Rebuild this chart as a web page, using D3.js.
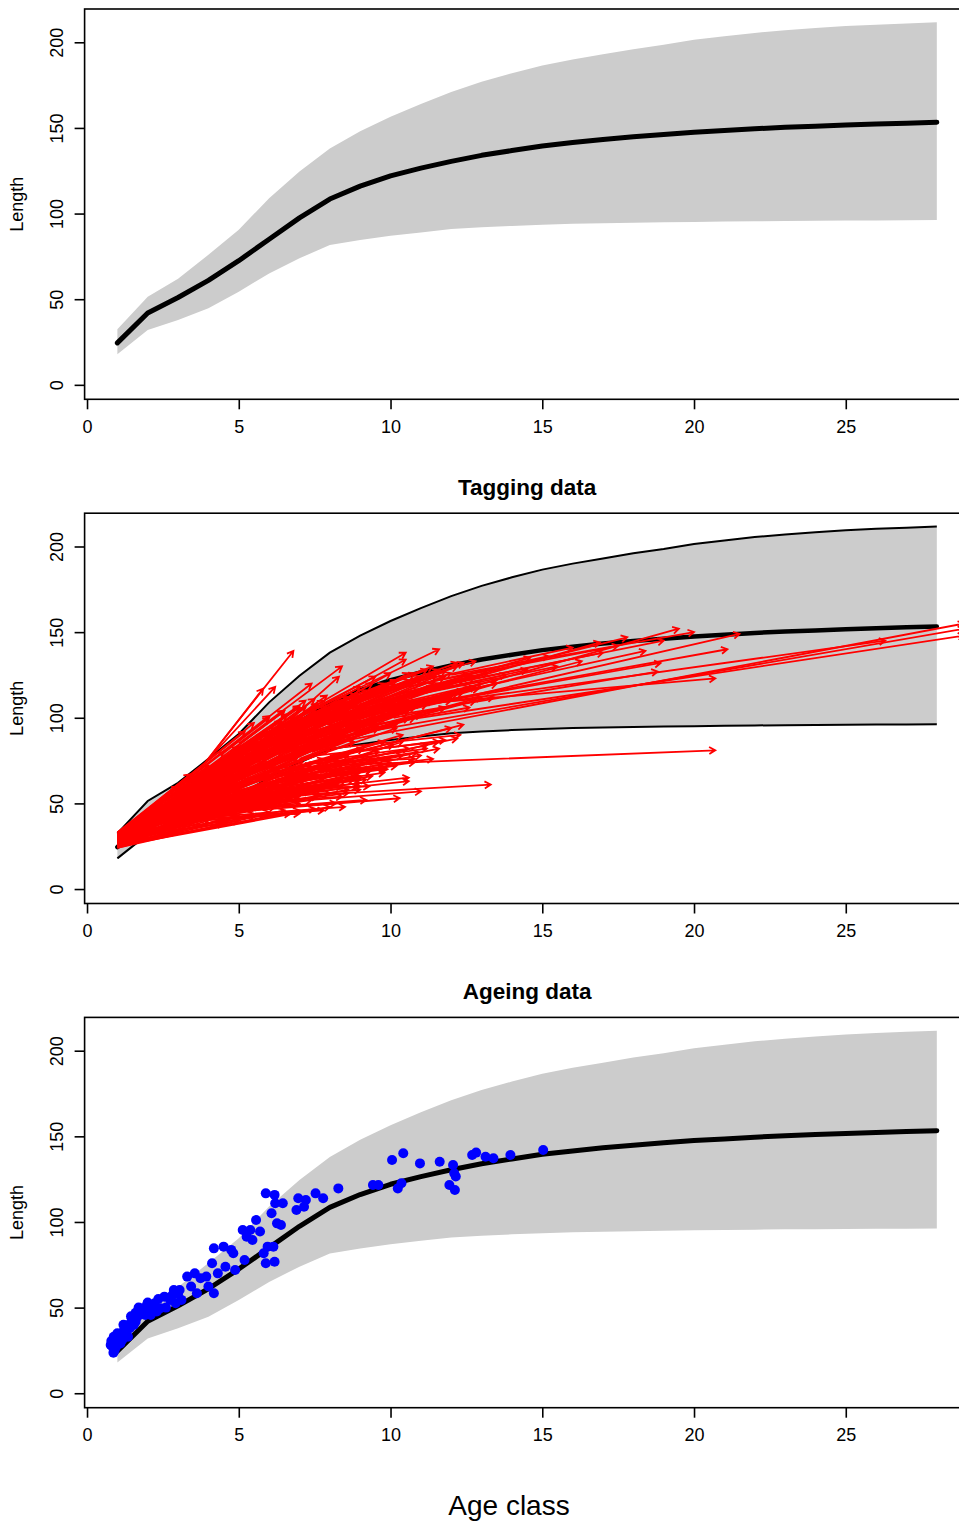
<!DOCTYPE html>
<html>
<head>
<meta charset="utf-8">
<script src="https://d3js.org/d3.v7.min.js"></script>
<style>
  body { margin: 0; background: #fff; }
  text { font-family: "Liberation Sans", Arial, Helvetica, sans-serif; fill: #000; }
</style>
</head>
<body>
<script>
// age classes and fitted growth curve (mean + band)
var ageClass = [1,2,3,4,5,6,7,8,9,10,11,12,13,14,15,16,17,18,19,20,21,22,23,24,25,26,27,28];
var meanLen  = [24.5,42,51,61,72.5,85,97.5,108.5,116,122,126.5,130.5,134,136.8,139.5,141.5,143.3,144.8,146.2,147.5,148.5,149.5,150.4,151,151.7,152.3,152.8,153.3];
var upperLen = [32.5,51.4,62,76,90.5,109,124.5,138,148,156.5,164,171,177,182,186.5,190,193,196,198.5,201.5,203.5,205.5,207,208.3,209.5,210.3,211,211.7];
var lowerLen = [17.9,32,37.9,44.7,54.4,65,73.9,81.6,84.5,87,89,91,92,92.8,93.4,94,94.3,94.6,94.9,95.1,95.3,95.5,95.7,95.8,95.9,96,96.1,96.2];

var xTicks = [0,5,10,15,20,25];
var yTicks = [0,50,100,150,200];
var panelTitles = ["", "Tagging data", "Ageing data"];

// tagging data: [release age, release length, recapture age, recapture length]
var tagArrows = [
  [1.00,28,3.0,37],[1.02,30,3.0,45],[1.00,31,3.1,53],[1.05,33,3.0,60],[1.00,26,3.5,39],
  [1.00,29,3.5,48],[1.03,31,3.6,58],[1.00,32,3.4,67],[1.00,25,4.0,40],[1.08,28,4.0,47],
  [1.00,30,4.1,55],[1.00,31,3.9,63],[1.02,33,4.0,72],[1.00,24,4.5,41],[1.00,27,4.5,50],
  [1.05,29,4.6,60],[1.00,31,4.4,70],[1.00,32,4.5,80],[1.00,25,5.0,43],[1.10,27,5.0,52],
  [1.00,29,5.1,62],[1.00,30,4.9,72],[1.03,32,5.0,83],[1.00,33,5.2,92],[1.00,26,5.5,44],
  [1.00,28,5.6,54],[1.06,30,5.5,65],[1.00,29,5.4,76],[1.00,31,5.6,87],[1.00,32,5.5,97],
  [1.00,25,6.0,45],[1.00,27,6.1,56],[1.04,28,6.0,66],[1.00,30,5.9,78],[1.00,31,6.1,89],
  [1.00,33,6.0,101],[1.00,24,6.5,46],[1.08,27,6.6,57],[1.00,29,6.4,69],[1.00,30,6.5,81],
  [1.00,28,6.6,93],[1.02,32,6.5,104],[1.00,25,7.0,46],[1.00,26,7.1,58],[1.00,28,7.0,71],
  [1.05,30,6.9,83],[1.00,31,7.1,95],[1.00,29,7.0,107],[1.00,26,7.5,47],[1.00,27,7.6,61],
  [1.03,29,7.4,73],[1.00,30,7.5,86],[1.00,32,7.6,99],[1.00,28,7.5,111],[1.00,25,8.0,48],
  [1.00,28,8.1,62],[1.06,29,8.0,75],[1.00,31,7.9,89],[1.00,30,8.1,103],[1.00,27,8.5,63],
  [1.00,29,8.6,78],[1.02,31,8.4,95],[1.00,32,8.5,110],[1.00,28,9.0,66],[1.00,30,9.1,82],
  [1.05,31,9.0,98],[1.00,33,8.9,114],
  [1.5,34,4.2,58],[1.6,38,5.3,76],[1.8,36,6.2,72],[2.0,42,6.5,96],[2.0,38,5.8,60],
  [2.1,44,7.3,100],[2.2,45,7.0,80],[2.3,40,6.4,52],[2.4,47,8.0,104],[2.5,48,7.7,92],
  [2.5,43,7.2,64],[2.6,40,7.0,55],[2.7,50,8.3,108],[2.8,52,8.5,90],[2.9,46,8.0,70],
  [3.0,55,9.0,112],[3.0,52,6.5,90],[3.1,58,10.0,118],[3.2,50,7.5,68],[3.3,46,8.2,61],
  [3.4,56,9.2,96],[3.5,60,9.5,104],[3.5,54,8.7,76],[3.6,54,9.8,86],[3.7,62,8.2,100],
  [3.8,65,10.5,110],[3.8,58,7.6,84],[3.9,74,6.8,139],[3.8,72,6.2,118],[4.0,76,5.8,117],
  [4.0,62,10.8,100],[4.0,68,9.0,106],[4.1,60,7.0,78],[4.2,70,11.5,124],[4.3,66,8.4,94],
  [4.5,72,12.0,112],[4.5,80,7.4,120],[4.6,70,9.6,116],[4.8,68,10.2,96],[4.9,82,9.5,124],
  [5.0,85,8.4,130],[5.0,75,11.0,122],[5.1,72,8.8,100],[5.3,80,10.2,119],[5.5,86,10.5,138],
  [5.5,78,9.4,105],[5.6,84,11.8,127],[5.8,90,9.0,112],[6.0,92,11.6,140],[6.0,82,12.4,115],
  [6.2,88,10.0,126],[6.5,96,12.2,132],[6.5,90,11.0,116],[6.8,94,12.6,125],[7.0,100,10.5,134],
  [7.0,95,13.5,122],[7.3,102,11.2,128],[7.5,105,12.8,133],[7.8,98,12.0,110],[8.0,108,11.4,130],
  [5.2,78,10.6,126],[5.8,86,7.9,113],[6.4,94,8.3,124],[4.4,78,6.0,100],[4.7,80,6.5,104],
  [5.0,70,20.7,81],[7.5,55,13.3,61],[6.0,85,19.5,152],[7.0,90,21.5,149],[8.0,100,26.3,145],
  [6.5,80,28.9,155],[7.0,85,28.9,152],[8.0,92,28.9,148],[9.0,105,20.7,123],[8.5,100,21.1,140],
  [7.0,95,18.4,139],[8.0,98,18.9,132],[9.0,98,18.8,127],[6.0,90,16.9,144],[10.0,118,16.0,141],
  [9.0,112,15.2,136],[11.0,120,17.5,142],[10.0,110,14.5,128],[8.5,95,13.5,120],[9.5,102,16.3,133],
  [10.5,115,19.0,145],[11.5,118,17.0,138],[9.0,108,17.8,147],[7.5,100,14.6,135],[8.2,104,15.5,130],
  [12.0,125,20.0,150],[10.2,112,13.8,125],[9.6,106,12.9,117],
  [3.0,40,7.8,46],[2.5,38,6.7,44],[4.0,45,9.2,52],[3.5,43,10.3,53],[4.5,48,11.0,57],
  [5.0,52,10.6,63],[5.5,55,10.6,65],[4.5,50,9.0,58],[6.0,60,9.8,71],[6.5,62,10.1,84.5],
  [7.0,70,10.9,80],[5.0,56,8.8,66],[6.0,66,9.5,75],[4.0,42,8.5,48],[3.0,36,5.5,42],
  [5.5,58,9.3,60],[6.2,64,11.0,78],[7.0,68,12.2,88],[2.0,33,4.5,38],[1.5,30,5.0,40],
  [3.5,40,7.0,44],[4.5,46,8.2,50],[5.5,54,8.0,56],[6.5,66,9.0,68],[7.5,74,10.8,76],
  [6.8,70,9.9,70],[8.0,78,11.8,87],[8.0,82,12.3,90],
  [1.3,30,5.2,66],[1.4,33,5.8,80],[1.5,32,6.3,88],[1.6,35,5.0,58],[1.7,37,6.8,92],
  [1.8,40,7.4,98],[1.9,38,6.0,68],[2.0,36,7.8,84],[2.0,46,6.2,94],[2.1,41,5.4,64],
  [2.2,43,8.2,96],[2.3,47,7.6,102],[2.4,39,6.8,60],[2.5,45,6.0,74],[2.6,50,7.2,106],
  [2.7,44,8.8,88],[2.8,48,6.6,86],[2.9,54,7.8,110],[3.0,42,7.4,58],[3.0,49,8.0,82],
  [3.1,53,7.0,98],[3.2,45,9.0,72],[3.2,57,8.6,112],[3.3,51,6.4,80],[3.4,48,7.9,66],
  [3.5,58,7.5,104],[3.5,50,9.6,80],[3.6,62,6.9,100],[3.7,55,8.4,92],[3.7,47,8.9,60],
  [3.8,60,9.2,108],[3.9,52,7.1,74],[4.0,64,8.0,106],[4.0,56,10.2,94],[4.1,50,9.4,66],
  [4.2,68,7.6,108],[4.2,58,8.2,88],[4.3,53,10.0,74],[4.4,62,9.8,102],[4.5,66,8.6,104],
  [4.5,56,7.8,76],[4.6,74,9.0,118],[4.7,60,10.4,90],[4.8,54,9.2,64],[4.9,70,8.0,102],
  [5.0,64,9.6,96],[5.0,78,9.8,120],[5.1,58,8.4,72],[5.2,68,10.8,106],[5.3,74,8.6,108],
  [5.4,62,11.2,84],[5.5,70,9.6,100],[5.6,80,10.0,118],[5.7,66,8.8,86],[5.8,76,11.4,110],
  [5.9,60,9.8,70],[6.0,72,10.6,100],[6.0,86,9.4,120],[6.1,68,12.0,94],[6.2,80,10.8,114],
  [6.3,74,9.0,92],[6.4,64,11.6,82],[6.5,84,11.4,120],[6.6,78,9.8,104],[6.7,70,12.4,96],
  [6.8,88,10.2,122],[6.9,82,11.8,112],[7.0,76,9.6,94],[7.1,92,12.0,126],[7.2,86,10.4,112],
  [7.4,80,11.0,102],[7.5,96,11.6,128],[7.6,90,12.6,118],[7.8,84,10.6,104],[7.9,102,12.2,130],
  [8.0,94,11.0,116],[8.2,88,12.8,110],[8.4,106,12.4,132],[8.6,98,11.6,120],[8.8,92,13.0,112],
  [1.2,29,4.8,48],[1.3,31,5.4,56],[1.4,28,6.2,52],[1.5,33,6.9,64],[1.6,30,7.7,58],
  [1.7,34,4.4,52],[1.8,32,5.7,50],[1.9,36,8.4,70],[2.0,34,6.6,50],[2.1,37,7.9,62],
  [2.2,35,9.0,66],[2.3,38,5.6,48],[2.4,36,8.6,58],[2.5,40,9.8,76],[2.6,38,6.2,50],
  [2.7,41,8.4,64],[2.8,39,7.0,54],[2.9,42,9.4,70],[3.0,44,10.4,86],[3.1,41,6.0,52],
  [1.1,27,2.6,38],[1.2,30,2.8,46],[1.1,32,2.4,44],[1.3,28,2.2,36],[1.2,33,3.3,55],
  [1.4,31,3.8,52],[1.0,29,2.0,40],[1.1,26,2.5,34],[1.5,35,3.2,56],[1.6,36,4.8,74],
  [1.0,30,4.3,66],[1.0,27,4.7,56],[1.0,29,5.3,68],[1.0,32,5.8,90],[1.0,28,6.2,74],
  [1.0,30,6.8,98],[1.0,26,7.3,66],[1.0,31,7.8,104],[1.0,29,8.3,88],[1.0,27,8.8,70],
  [1.0,30,6.3,62],[1.0,28,5.0,57],[1.0,31,5.3,80],[1.0,27,6.9,76],[1.0,29,7.2,90],
  [1.0,32,7.1,101],[1.0,28,3.8,50],[1.0,30,4.8,64],[1.0,26,5.8,50],[1.0,29,6.0,84],
  [4.0,70,8.6,112],[4.5,74,9.4,114],[5.0,80,8.9,108],[5.2,84,9.2,116],[5.4,76,10.4,112],
  [5.6,88,10.6,122],[5.8,82,9.6,108],[6.0,78,10.2,104],[6.1,90,11.0,124],[6.3,86,9.8,116],
  [6.5,80,11.2,108],[6.6,92,10.8,126],[6.8,84,10.6,110],[7.0,88,11.4,118],[7.2,96,10.0,118],
  [7.3,82,11.8,106],[7.5,92,12.4,122],[7.7,86,11.2,108],[7.9,96,12.0,120],[8.1,90,11.6,112],
  [8.3,100,12.6,124],[8.5,94,12.2,114],[8.7,104,11.8,124],[8.9,96,12.8,118],[9.1,100,12.4,116],
  [9.3,108,13.2,126],[9.5,96,12.6,106],[9.7,104,13.0,120],[9.9,110,12.8,124],[10.1,100,13.4,112],
  [2.0,35,6.2,48],[2.5,39,7.4,52],[3.0,42,7.0,50],[3.3,44,8.6,56],[3.6,46,7.6,54],
  [3.9,48,8.4,60],[4.2,50,9.0,62],[4.6,52,8.8,64],[4.9,55,9.8,68],[5.2,56,9.0,64],
  [5.5,60,10.2,72],[5.8,62,9.4,70],[6.1,63,10.8,74],[6.4,68,10.4,78],[6.7,66,11.4,76],
  [7.0,72,11.2,82],[7.3,74,10.6,82],[7.6,78,11.6,86],[6.0,57,9.0,60],[5.0,50,8.4,54],
  [2.2,48,5.2,80],[2.6,52,5.6,86],[3.0,58,6.0,92],[3.3,62,6.4,98],[3.6,66,6.6,102],
  [3.9,68,7.0,106],[4.2,72,7.2,110],[2.4,46,5.8,74],[2.8,50,6.4,84],[3.2,54,6.8,88]
];

// ageing data
var ageingAge = [0.87,0.78,0.91,0.97,1.10,1.22,1.35,1.47,1.60,1.73,1.85,1.98,2.10,2.23,2.30,2.42,2.55,2.74,2.86,2.92,
  3.05,3.11,3.30,3.43,3.55,3.62,3.74,3.93,4.00,4.12,4.18,4.18,4.31,4.50,4.56,4.75,4.82,4.88,5.13,5.19,
  5.26,5.38,5.45,5.57,5.70,5.82,5.89,5.89,5.95,6.08,6.14,6.18,6.18,6.20,6.26,6.39,6.45,6.90,6.96,7.15,
  7.21,7.53,7.78,8.28,9.42,9.60,10.05,10.24,10.36,10.42,10.97,11.62,11.94,12.06,12.10,12.12,12.15,12.69,12.82,13.13,
  13.39,13.95,15.03,
  0.84,0.91,1.03,1.16,1.29,1.41,1.54,1.66,1.79,1.92,2.04,2.10,0.80,0.88,1.00,1.20,1.45,1.60,1.70,2.00,
  2.35,2.60,2.80,3.00,2.20,1.35,1.10,0.95];
var ageingLen = [23.7,28.2,30.2,32.1,34,37,39.9,43.8,41.8,48.6,49.6,51.6,50.6,52.5,47.7,49.6,56.4,54.5,60.3,52.5,
  60.3,54.5,68.1,62.3,70,58.4,67.1,68.1,62.3,75.9,84.6,58.4,70,85.6,73.9,83.7,81.7,72,95.3,77.8,
  91.4,95.3,89.5,101.2,94.4,81.7,116.7,75.9,85.6,105.1,85.6,76.8,115.8,110.9,99.2,98.2,110.9,107,113.8,108.9,
  112.8,116.7,113.8,119.6,121.6,121.6,136.2,119.6,122.6,140.1,134.2,135.2,121.6,133.3,128.4,118.7,126.5,139.1,140.5,138.1,
  137.2,139.1,142,
  27.2,25.3,29.2,31.1,36,37.9,39.9,44.7,46.7,45.7,48.6,45.7,30.5,33,35,40,45,47,50,53,
  55,50,57,58,50.5,33,29,27];

var W = 959, H = 1522;
var panelStep = 504.2;
var plotTop = 9, plotBottom = 399.3, plotLeft = 84.6, plotRight = 969.6;

var svg = d3.select("body").append("svg")
  .attr("width", W).attr("height", H);

var x = d3.scaleLinear().domain([-0.08, 29.08]).range([plotLeft, plotRight]);

var curve = ageClass.map(function(a, i) {
  return { age: a, mean: meanLen[i], up: upperLen[i], lo: lowerLen[i] };
});

[0, 1, 2].forEach(function(p) {
  var off = p * panelStep;
  var y = d3.scaleLinear().domain([-8.44, 219.44]).range([plotBottom + off, plotTop + off]);
  var g = svg.append("g");

  g.append("clipPath").attr("id", "clip" + p)
    .append("rect")
    .attr("x", plotLeft).attr("y", plotTop + off)
    .attr("width", plotRight - plotLeft).attr("height", plotBottom - plotTop);

  var plot = g.append("g").attr("clip-path", "url(#clip" + p + ")");

  // band
  plot.append("path")
    .datum(curve)
    .attr("fill", "#cccccc")
    .attr("d", d3.area()
      .x(function(d) { return x(d.age); })
      .y0(function(d) { return y(d.lo); })
      .y1(function(d) { return y(d.up); }));

  if (p === 1) {
    ["up", "lo"].forEach(function(k) {
      plot.append("path")
        .datum(curve)
        .attr("fill", "none")
        .attr("stroke", "#000")
        .attr("stroke-width", 2)
        .attr("d", d3.line()
          .x(function(d) { return x(d.age); })
          .y(function(d) { return y(d[k]); }));
    });
  }

  // mean growth curve
  plot.append("path")
    .datum(curve)
    .attr("fill", "none")
    .attr("stroke", "#000")
    .attr("stroke-width", p === 1 ? 4.5 : 5)
    .attr("stroke-linecap", "round")
    .attr("stroke-linejoin", "round")
    .attr("d", d3.line()
      .x(function(d) { return x(d.age); })
      .y(function(d) { return y(d.mean); }));

  if (p === 1) {
    var head = 7, ang = Math.PI / 6;
    plot.append("g")
      .attr("fill", "none")
      .attr("stroke", "#ff0000")
      .attr("stroke-width", 1.8)
      .selectAll("path")
      .data(tagArrows)
      .enter().append("path")
      .attr("d", function(d) {
        var x0 = x(d[0]), y0 = y(d[1]), x1 = x(d[2]), y1 = y(d[3]);
        var t = Math.atan2(y1 - y0, x1 - x0);
        var ax = x1 - head * Math.cos(t - ang), ay = y1 - head * Math.sin(t - ang);
        var bx = x1 - head * Math.cos(t + ang), by = y1 - head * Math.sin(t + ang);
        return "M" + x0 + "," + y0 + "L" + x1 + "," + y1 +
               "M" + ax + "," + ay + "L" + x1 + "," + y1 + "L" + bx + "," + by;
      });
  }

  if (p === 2) {
    plot.append("g")
      .selectAll("circle")
      .data(ageingAge)
      .enter().append("circle")
      .attr("cx", function(d) { return x(d); })
      .attr("cy", function(d, i) { return y(ageingLen[i]); })
      .attr("r", 5)
      .attr("fill", "#0000ff");
  }

  // box
  g.append("rect")
    .attr("x", plotLeft).attr("y", plotTop + off)
    .attr("width", plotRight - plotLeft).attr("height", plotBottom - plotTop)
    .attr("fill", "none").attr("stroke", "#000").attr("stroke-width", 1.6);

  // x axis
  var xa = g.append("g")
    .attr("transform", "translate(0," + (plotBottom + off) + ")")
    .call(d3.axisBottom(x).tickValues(xTicks).tickSize(10).tickPadding(11));
  xa.select(".domain").remove();
  xa.selectAll("line").attr("stroke-width", 1.6);
  xa.selectAll("text").style("font-size", "18px").style("font-family", null);

  // y axis
  var ya = g.append("g")
    .attr("transform", "translate(" + plotLeft + ",0)")
    .call(d3.axisLeft(y).tickValues(yTicks).tickSize(10));
  ya.select(".domain").remove();
  ya.selectAll("line").attr("stroke-width", 1.6);
  ya.selectAll("text")
    .attr("x", null).attr("dy", null)
    .attr("text-anchor", "middle")
    .attr("transform", "translate(-22,0) rotate(-90)")
    .style("font-size", "18px").style("font-family", null);

  g.append("text")
    .attr("transform", "translate(23," + ((plotTop + plotBottom) / 2 + off) + ") rotate(-90)")
    .attr("text-anchor", "middle")
    .style("font-size", "18px")
    .text("Length");

  if (panelTitles[p]) {
    g.append("text")
      .attr("x", (plotLeft + plotRight) / 2)
      .attr("y", 495 + off - panelStep)
      .attr("text-anchor", "middle")
      .style("font-size", "22.5px")
      .style("font-weight", "bold")
      .text(panelTitles[p]);
  }
});

svg.append("text")
  .attr("x", 509).attr("y", 1515)
  .attr("text-anchor", "middle")
  .style("font-size", "28px")
  .text("Age class");
</script>
</body>
</html>
